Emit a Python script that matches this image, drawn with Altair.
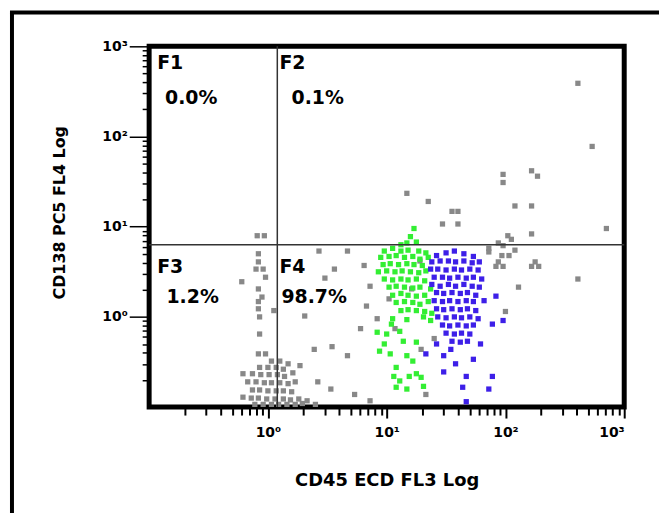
import altair as alt
import pandas as pd

# ---- values, as log10 (decades) ----
gray_xlog = [2.61, 2.73, 1.98, 1.98, 2.22, 2.27, 2.08, 2.22, 1.17, 1.35, 1.55, 1.60, 1.47, 1.60,
             2.22, 2.02, 2.05, 2.85, 1.94, 1.98, 1.86, 2.08, 1.97, 2.03, 2.25, 1.92, 1.98, 2.22,
             2.28, 2.61, 2.11, 1.86, 1.94, 2.00,
             -0.09, -0.03, -0.08, -0.08, -0.10, -0.04, -0.02, -0.08, -0.05, -0.08, -0.08, 0.05,
             -0.07, -0.07, -0.08, -0.02, -0.22,
             0.43, 0.67, 0.56, 0.48, 0.31, 0.78, 0.39, 0.54, 0.67, 0.42, 0.53, 0.73, 0.86, 1.33,
             0.81, 0.86, 0.83, 0.92, 1.02, 1.28, 1.07, 1.21, 1.40, 1.29,
             -0.07, 0.00, 0.07, 0.13, 0.03, 0.10, 0.17, -0.13, -0.06, 0.01, 0.08, 0.14, 0.21,
             -0.17, -0.10, -0.03, 0.03, 0.10, 0.17, 0.23, -0.13, -0.07, 0.00, 0.07, 0.13, 0.20,
             -0.21, -0.14, -0.08, -0.01, 0.06, 0.13, 0.19, 0.26, 0.33, -0.11, -0.04, 0.03, 0.09,
             0.16, 0.23, 0.29, 0.40, -0.21, 0.27]
gray_ylog = [2.59, 1.89, 1.58, 1.49, 1.62, 1.56, 1.23, 1.23, 1.37, 1.28, 1.17, 1.17, 1.03, 1.03,
             0.92, 0.90, 0.86, 0.98, 0.82, 0.79, 0.76, 0.74, 0.68, 0.68, 0.61, 0.56, 0.56, 0.56,
             0.56, 0.42, 0.33, 0.72, 0.61, 0.06,
             0.90, 0.90, 0.70, 0.61, 0.53, 0.53, 0.44, 0.31, 0.22, 0.17, 0.09, 0.07,
             0.00, -0.19, -0.41, -0.41, 0.39,
             0.73, 0.73, 0.53, 0.43, 0.01, -0.13, -0.36, -0.33, -0.43, -0.72, -0.80, -0.86, -0.93, -0.86,
             0.57, 0.34, 0.12, -0.02, 0.20, 0.62, -0.13, 0.31, -0.24, -0.36,
             -0.56, -0.56, -0.56, -0.58, -0.49, -0.49, -0.52, -0.63, -0.64, -0.64, -0.64, -0.66, -0.62,
             -0.72, -0.72, -0.73, -0.73, -0.73, -0.74, -0.72, -0.81, -0.81, -0.82, -0.82, -0.82, -0.83,
             -0.89, -0.90, -0.90, -0.91, -0.91, -0.91, -0.92, -0.91, -0.93, -0.97, -0.97, -0.97, -0.97,
             -0.97, -0.97, -0.96, -0.97, -0.63, -0.54]

green_xlog = [1.23, 1.20, 1.17, 1.25, 1.12, 0.98, 1.05, 1.12, 1.18, 1.27, 1.33, 0.95, 1.02, 1.08,
              1.15, 1.22, 1.28, 1.35, 0.97, 1.03, 1.10, 1.17, 1.23, 1.30, 0.93, 1.00, 1.07, 1.13,
              1.20, 1.27, 1.33, 0.98, 1.05, 1.12, 1.18, 1.25, 1.32, 1.02, 1.08, 1.15, 1.22, 1.28,
              1.37, 1.05, 1.12, 1.18, 1.25, 1.32, 1.08, 1.15, 1.22, 1.28, 1.35, 1.12, 1.18, 1.25,
              1.32, 1.38, 1.05, 1.17, 1.31, 1.37, 0.92, 1.00, 1.11, 1.14, 1.25, 0.94, 1.03, 1.17,
              0.98, 1.08, 1.06, 1.19, 1.25, 1.29, 1.11, 1.08, 1.17, 1.31, 1.22, 1.04]
green_ylog = [0.98, 0.89, 0.82, 0.83, 0.80, 0.73, 0.76, 0.73, 0.74, 0.73, 0.71, 0.66, 0.67, 0.68,
              0.66, 0.67, 0.64, 0.66, 0.58, 0.59, 0.58, 0.59, 0.58, 0.57, 0.50, 0.51, 0.50, 0.51,
              0.50, 0.49, 0.51, 0.42, 0.41, 0.42, 0.41, 0.42, 0.40, 0.33, 0.34, 0.33, 0.32, 0.33,
              0.31, 0.24, 0.26, 0.24, 0.23, 0.24, 0.16, 0.17, 0.16, 0.14, 0.17, 0.07, 0.08, 0.07,
              0.06, 0.04, -0.02, -0.03, 0.00, -0.04, -0.17, -0.19, -0.16, -0.27, -0.28, -0.38, -0.41, -0.43,
              -0.30, -0.56, -0.66, -0.66, -0.63, -0.67, -0.71, -0.78, -0.80, -0.77, -0.49, -0.08]

blue_xlog = [1.42, 1.50, 1.57, 1.65, 1.73, 1.38, 1.45, 1.52, 1.58, 1.65, 1.72, 1.78, 1.37, 1.43,
             1.50, 1.57, 1.63, 1.70, 1.77, 1.40, 1.47, 1.53, 1.60, 1.67, 1.73, 1.80, 1.38, 1.45,
             1.52, 1.58, 1.65, 1.72, 1.78, 1.42, 1.48, 1.55, 1.62, 1.68, 1.75, 1.40, 1.47, 1.53,
             1.60, 1.67, 1.73, 1.82, 1.42, 1.48, 1.55, 1.62, 1.68, 1.75, 1.43, 1.50, 1.57, 1.63,
             1.70, 1.77, 1.47, 1.53, 1.60, 1.67, 1.73, 1.50, 1.57, 1.63, 1.70, 1.55, 1.62, 1.68,
             1.92, 1.89, 1.98, 1.33, 1.48, 1.58, 1.48, 1.67, 1.73, 1.64, 1.86, 1.67, 1.89, 1.54,
             1.42, 1.79]
blue_ylog = [0.68, 0.71, 0.73, 0.70, 0.67, 0.61, 0.62, 0.62, 0.61, 0.62, 0.60, 0.61, 0.53, 0.53,
             0.52, 0.53, 0.52, 0.53, 0.52, 0.44, 0.44, 0.43, 0.44, 0.43, 0.44, 0.42, 0.36, 0.34,
             0.36, 0.34, 0.36, 0.34, 0.33, 0.27, 0.26, 0.27, 0.26, 0.27, 0.24, 0.18, 0.17, 0.18,
             0.17, 0.18, 0.17, 0.18, 0.09, 0.08, 0.09, 0.08, 0.09, 0.07, 0.00, -0.01, 0.00, -0.01,
             0.00, -0.02, -0.09, -0.10, -0.09, -0.10, -0.09, -0.18, -0.19, -0.18, -0.19, -0.27, -0.28, -0.27,
             0.23, -0.08, -0.04, -0.41, -0.43, -0.52, -0.61, -0.66, -0.47, -0.78, -0.80, -0.94, -0.66, -0.36,
             -0.30, -0.30]

quad_names = ["F1", "0.0%", "F2", "0.1%", "F3", "1.2%", "F4", "98.7%"]
quad_x = [0.117, 0.136, 1.25, 1.58, 0.117, 0.14, 1.25, 1.30]
quad_y = [650, 267, 650, 267, 3.58, 1.67, 3.58, 1.67]

quad_line_x = 1.2
quad_line_y = 6.3

x_title = "CD45 ECD FL3 Log"
y_title = "CD138 PC5 FL4 Log"

FONT = "DejaVu Sans"

# ---- build tables ----
rows = []
for name, xs, ys in (("gray", gray_xlog, gray_ylog), ("green", green_xlog, green_ylog),
                     ("blue", blue_xlog, blue_ylog)):
    for a, b in zip(xs, ys):
        rows.append({"x": 10 ** a, "y": 10 ** b, "pop": name})
pts = pd.DataFrame(rows)
labels = pd.DataFrame({"x": quad_x, "y": quad_y, "t": quad_names})

tick_vals = [m * 10.0 ** e for e in (-1, 0, 1, 2) for m in range(1, 10)][1:] + [1000]
lab_expr = ("datum.value == 1 ? '10\u2070' : datum.value == 10 ? '10\u00b9' : "
            "datum.value == 100 ? '10\u00b2' : datum.value == 1000 ? '10\u00b3' : ''")
major_test = "datum.value == 1 || datum.value == 10 || datum.value == 100 || datum.value == 1000"

xscale = alt.Scale(type="log", domain=[0.1, 1000], nice=False)
yscale = alt.Scale(type="log", domain=[0.1, 1000], nice=False)

xaxis = alt.Axis(values=tick_vals, labelExpr=lab_expr, labelOverlap=False, domain=False, grid=False,
                 tickColor="black", tickWidth=2,
                 tickSize={"condition": {"test": major_test, "value": 11}, "value": 8},
                 labelPadding=8,
                 labelFont=FONT, labelFontSize=14, labelFontWeight="bold", labelColor="black",
                 title=x_title, titleFont=FONT, titleFontSize=18, titleFontWeight="bold",
                 titleColor="black", titlePadding=32)
yaxis = alt.Axis(values=tick_vals, labelExpr=lab_expr, labelOverlap=False, domain=False, grid=False,
                 tickColor="black", tickWidth=1.5,
                 tickSize={"condition": {"test": major_test, "value": 20}, "value": 7},
                 labelPadding=2,
                 labelFont=FONT, labelFontSize=14, labelFontWeight="bold", labelColor="black",
                 title=y_title, titleFont=FONT, titleFontSize=16, titleFontWeight="bold",
                 titleColor="black", titlePadding=35, titleY=167)

points = alt.Chart(pts).mark_square(size=28, opacity=1).encode(
    x=alt.X("x:Q", scale=xscale, axis=xaxis),
    y=alt.Y("y:Q", scale=yscale, axis=yaxis),
    color=alt.Color("pop:N", scale=alt.Scale(domain=["gray", "green", "blue"],
                                             range=["#888888", "#33ee33", "#3d1fe8"]), legend=None),
)

vline = alt.Chart(pd.DataFrame({"v": [quad_line_x]})).mark_rule(color="#333333", strokeWidth=1.5).encode(
    x=alt.X("v:Q", scale=xscale))
hline = alt.Chart(pd.DataFrame({"v": [quad_line_y]})).mark_rule(color="#333333", strokeWidth=1.5).encode(
    y=alt.Y("v:Q", scale=yscale))

texts = alt.Chart(labels).mark_text(align="left", baseline="middle", fontSize=19, fontWeight="bold",
                                    font=FONT, color="black").encode(
    x=alt.X("x:Q", scale=xscale), y=alt.Y("y:Q", scale=yscale), text="t:N")

border_left = alt.Chart(pd.DataFrame({"a": [0]})).mark_rule(color="black", strokeWidth=4).encode(
    x=alt.value(-138), y=alt.value(-34), y2=alt.value(480))
border_top = alt.Chart(pd.DataFrame({"a": [0]})).mark_rule(color="black", strokeWidth=4).encode(
    x=alt.value(-140), x2=alt.value(520), y=alt.value(-34))

chart = alt.layer(points, vline, hline, texts, border_left, border_top).properties(
    width=478, height=363,
    autosize=alt.AutoSizeParams(type="none"),
    padding={"left": 142, "top": 37, "right": 35, "bottom": 105},
    background="white",
).configure_view(stroke="black", strokeWidth=5)

chart.save("out.html", embed_options={"renderer": "svg", "actions": False})
